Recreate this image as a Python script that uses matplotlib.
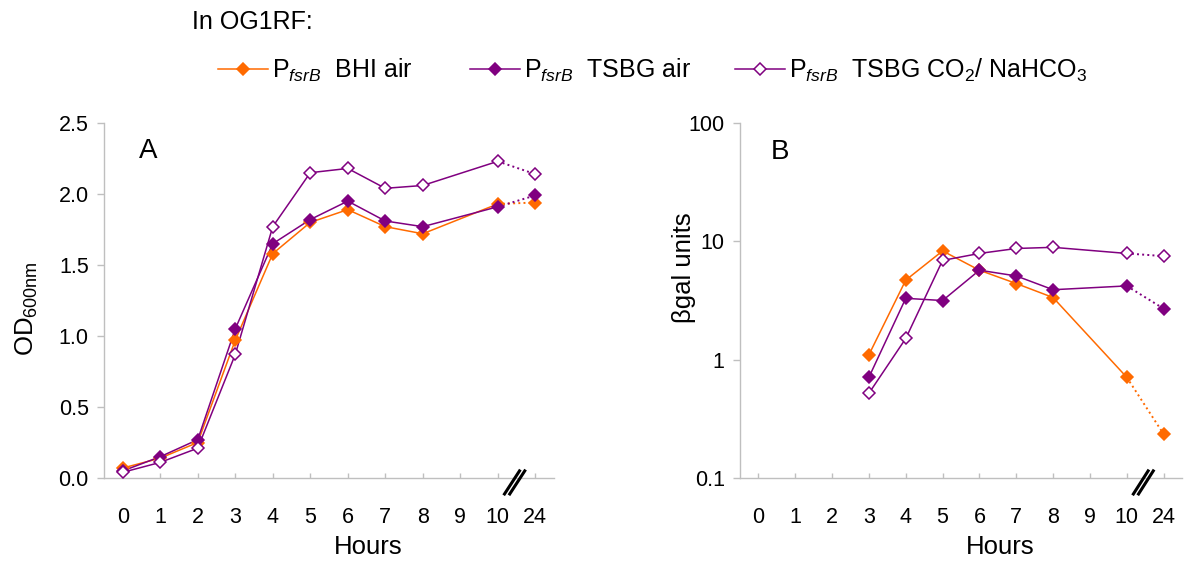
import matplotlib
matplotlib.use("Agg")
import matplotlib.pyplot as plt
from matplotlib.lines import Line2D
import numpy as np

plt.rcParams['font.family'] = ['Liberation Sans', 'DejaVu Sans']
plt.rcParams['mathtext.fontset'] = 'custom'
plt.rcParams['mathtext.rm'] = 'Liberation Sans'
plt.rcParams['mathtext.it'] = 'Liberation Sans:italic'

# ---- data ----
hours = ['0', '1', '2', '3', '4', '5', '6', '7', '8', '9', '10', '24']
od_hours = ['0', '1', '2', '3', '4', '5', '6', '7', '8', '10', '24']
od_bhi_air = [0.07, 0.14, 0.25, 0.97, 1.58, 1.80, 1.89, 1.77, 1.72, 1.93, 1.94]
od_tsbg_air = [0.05, 0.15, 0.27, 1.05, 1.65, 1.82, 1.95, 1.81, 1.77, 1.91, 1.99]
od_tsbg_co2 = [0.04, 0.11, 0.21, 0.87, 1.77, 2.15, 2.18, 2.04, 2.06, 2.23, 2.14]

bgal_hours = ['3', '4', '5', '6', '7', '8', '10', '24']
bgal_bhi_air = [1.10, 4.7, 8.3, 5.7, 4.4, 3.35, 0.71, 0.235]
bgal_tsbg_air = [0.71, 3.3, 3.16, 5.7, 5.1, 3.9, 4.2, 2.7]
bgal_tsbg_co2 = [0.52, 1.51, 6.9, 7.9, 8.7, 8.9, 7.9, 7.5]

series_labels = [r'P$_{\mathit{fsrB}}$  BHI air',
                 r'P$_{\mathit{fsrB}}$  TSBG air',
                 r'P$_{\mathit{fsrB}}$  TSBG CO$_{2}$/ NaHCO$_{3}$']

ORANGE = '#FF6A00'
PURPLE = '#800080'
styles = [dict(color=ORANGE, mfc=ORANGE, mec=ORANGE),
          dict(color=PURPLE, mfc=PURPLE, mec=PURPLE),
          dict(color=PURPLE, mfc='white', mec=PURPLE)]

MS = 5.8
LW = 1.1

fig = plt.figure(figsize=(12, 5.68), dpi=100)
axA = fig.add_axes([104 / 1200, 1 - 478 / 568, 450 / 1200, 355 / 568])
axB = fig.add_axes([740 / 1200, 1 - 478 / 568, 442 / 1200, 355 / 568])

pos = {h: i for i, h in enumerate(hours)}


def draw(ax, xs, ys, st):
    x = np.array([pos[h] for h in xs])
    y = np.array(ys)
    # solid up to 10 h, dotted from 10 to 24 h
    ax.plot(x[:-1], y[:-1], '-', color=st['color'], lw=LW, zorder=2)
    ax.plot(x[-2:], y[-2:], ':', color=st['color'], lw=1.4, zorder=2)
    ax.plot(x, y, 'D', ms=MS, mfc=st['mfc'], mec=st['mec'], mew=1.1,
            ls='none', zorder=3)


for ys, st in zip([od_bhi_air, od_tsbg_air, od_tsbg_co2], styles):
    draw(axA, od_hours, ys, st)
for ys, st in zip([bgal_bhi_air, bgal_tsbg_air, bgal_tsbg_co2], styles):
    draw(axB, bgal_hours, ys, st)

GREY = '#BFBFBF'
for ax in (axA, axB):
    ax.set_xlim(-0.5, 11.5)
    ax.set_xticks(range(len(hours)))
    ax.set_xticklabels(hours)
    for s in ('top', 'right'):
        ax.spines[s].set_visible(False)
    for s in ('left', 'bottom'):
        ax.spines[s].set_color(GREY)
        ax.spines[s].set_linewidth(1.0)
    ax.tick_params(axis='y', colors=GREY, labelcolor='black',
                   labelsize=15.5, length=5, width=1.0, direction='out', pad=6)
    ax.tick_params(axis='x', colors=GREY, labelcolor='black',
                   labelsize=15.5, length=3.6, width=1.0, direction='in',
                   pad=21)
    ax.set_xlabel('Hours', fontsize=18.5)
    # axis break marks between 10 and 24
    for dx in (-0.07, 0.07):
        xc = 10.45 + dx
        ax.plot([xc - 0.2, xc + 0.2], [-0.045, 0.02], color='black', lw=2.2,
                transform=ax.get_xaxis_transform(), clip_on=False, zorder=5)

axA.xaxis.get_major_ticks()[0].tick1line.set_visible(False)
axA.xaxis.set_label_coords((368 - 104) / 450, (478 - 535) / 355)
axB.xaxis.set_label_coords((1000 - 740) / 442, (478 - 535) / 355)

axA.set_ylim(0, 2.5)
axA.set_yticks([0, 0.5, 1.0, 1.5, 2.0, 2.5])
axA.set_yticklabels(['0.0', '0.5', '1.0', '1.5', '2.0', '2.5'])
axA.set_ylabel(r'OD$_{\mathrm{600nm}}$', fontsize=18.5)
axA.yaxis.set_label_coords((40 - 104) / 450, 0.477)
axA.text((148 - 104) / 450, (478 - 151) / 355, 'A', transform=axA.transAxes,
         fontsize=20, va='center', ha='center')

axB.set_yscale('log')
axB.set_ylim(0.1, 100)
axB.set_yticks([0.1, 1, 10, 100])
axB.set_yticklabels(['0.1', '1', '10', '100'])
axB.yaxis.set_minor_locator(matplotlib.ticker.NullLocator())
axB.set_ylabel('βgal units', fontsize=18.5)
axB.yaxis.set_label_coords((696 - 740) / 442, (478 - 268) / 355)
axB.text((780 - 740) / 442, (478 - 152) / 355, 'B', transform=axB.transAxes,
         fontsize=20, va='center', ha='center')

fig.text(192 / 1200, 1 - 22 / 568, 'In OG1RF:', fontsize=18, va='center')

# legend: one entry per position
leg_x = [218, 470, 735]
for st, lab, lx in zip(styles, series_labels, leg_x):
    h = Line2D([], [], color=st['color'], lw=LW, marker='D', ms=MS + 0.4,
               mfc=st['mfc'], mec=st['mec'], mew=1.1)
    fig.legend([h], [lab], loc='center left',
               bbox_to_anchor=(lx / 1200, 1 - 70 / 568),
               frameon=False, fontsize=18, handlelength=2.0,
               handletextpad=0.15, borderpad=0, borderaxespad=0)

fig.savefig('out.png', dpi=100)
